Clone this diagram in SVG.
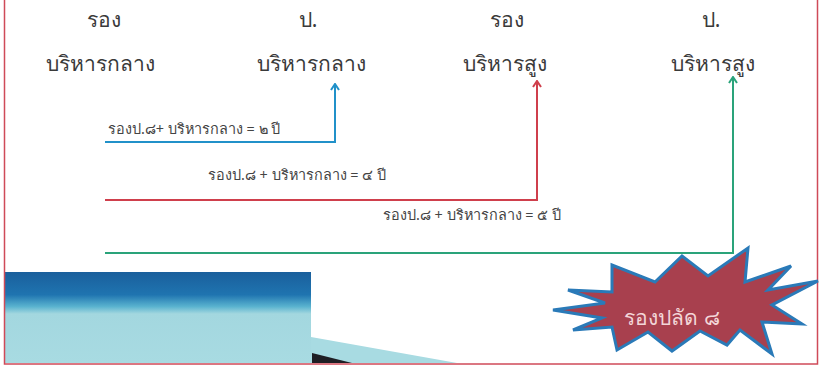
<svg xmlns="http://www.w3.org/2000/svg" width="819" height="370" viewBox="0 0 819 370">
<style>
.h{font-family:"Noto Sans","DejaVu Sans",sans-serif;font-size:21px;fill:#3a3a3a;text-anchor:middle}
.l{font-family:"Noto Sans","DejaVu Sans",sans-serif;font-size:14.4px;fill:#444444}
.c{fill:none;stroke-width:2}
</style>
<defs>
<linearGradient id="g" x1="0" y1="0" x2="0" y2="1">
<stop offset="0" stop-color="#1a5f9c"/>
<stop offset="0.25" stop-color="#1f74b0"/>
<stop offset="0.38" stop-color="#5ab3cf"/>
<stop offset="0.46" stop-color="#a3d7df"/>
<stop offset="1" stop-color="#a8dbe2"/>
</linearGradient>
<marker id="ab" markerWidth="10" markerHeight="10" refX="5" refY="2" markerUnits="userSpaceOnUse" viewBox="0 0 10 10"><path d="M1,7 L5,1 L9,7" fill="none" stroke="#2191c9" stroke-width="2"/></marker>
<marker id="ar" markerWidth="10" markerHeight="10" refX="5" refY="2" markerUnits="userSpaceOnUse" viewBox="0 0 10 10"><path d="M1,7 L5,1 L9,7" fill="none" stroke="#cf3f4c" stroke-width="2"/></marker>
<marker id="ag" markerWidth="10" markerHeight="10" refX="5" refY="2" markerUnits="userSpaceOnUse" viewBox="0 0 10 10"><path d="M1,7 L5,1 L9,7" fill="none" stroke="#2aa37a" stroke-width="2"/></marker>
</defs>
<rect width="819" height="370" fill="#ffffff"/>
<g id="background">
<rect x="5" y="272" width="306" height="91" fill="url(#g)"/>
<polygon points="311,337 457,363 311,363" fill="#a8dbe2"/>
<polygon points="312,353 352,363 312,363" fill="#1e1e24"/>
</g>
<rect x="4.5" y="-2" width="813" height="366" fill="none" stroke="#cf4a58" stroke-width="1.5"/>
<g id="node-1"><text class="h" x="104" y="27">รอง</text><text class="h" x="100" y="71">บริหารกลาง</text></g>
<g id="node-2"><text class="h" x="308" y="27">ป.</text><text class="h" x="311" y="71">บริหารกลาง</text></g>
<g id="node-3"><text class="h" x="507" y="27">รอง</text><text class="h" x="505" y="71">บริหารสูง</text></g>
<g id="node-4"><text class="h" x="711" y="27">ป.</text><text class="h" x="713" y="71">บริหารสูง</text></g>
<g id="connectors">
<polyline class="c" stroke="#2191c9" points="105,142 335,142 335,85" marker-end="url(#ab)"/>
<polyline class="c" stroke="#cf3f4c" points="105,200 537,200 537,82" marker-end="url(#ar)"/>
<polyline class="c" stroke="#2aa37a" points="105,253 733,253 733,78" marker-end="url(#ag)"/>
<text class="l" x="108" y="134">รองป.๘+ บริหารกลาง = ๒ ปี</text>
<text class="l" x="208" y="180">รองป.๘ + บริหารกลาง = ๔ ปี</text>
<text class="l" x="383" y="220">รองป.๘ + บริหารกลาง = ๕ ปี</text>
</g>
<g id="node-star">
<polygon points="553,310 605,303 568,290 612,292 612,265 655,282 682,256 708,276 748,248 745,282 791,266 768,290 818,281 772,305 802,324 762,322 772,354 740,330 727,345 700,331 672,351 648,332 617,350 612,327 573,330 602,318" fill="#a8404e" stroke="#2a7ab8" stroke-width="3" stroke-linejoin="miter"/>
<text x="672" y="325" font-family="Noto Sans,DejaVu Sans,sans-serif" font-size="21" fill="#f3d6d8" text-anchor="middle">รองปลัด ๘</text>
</g>
</svg>
